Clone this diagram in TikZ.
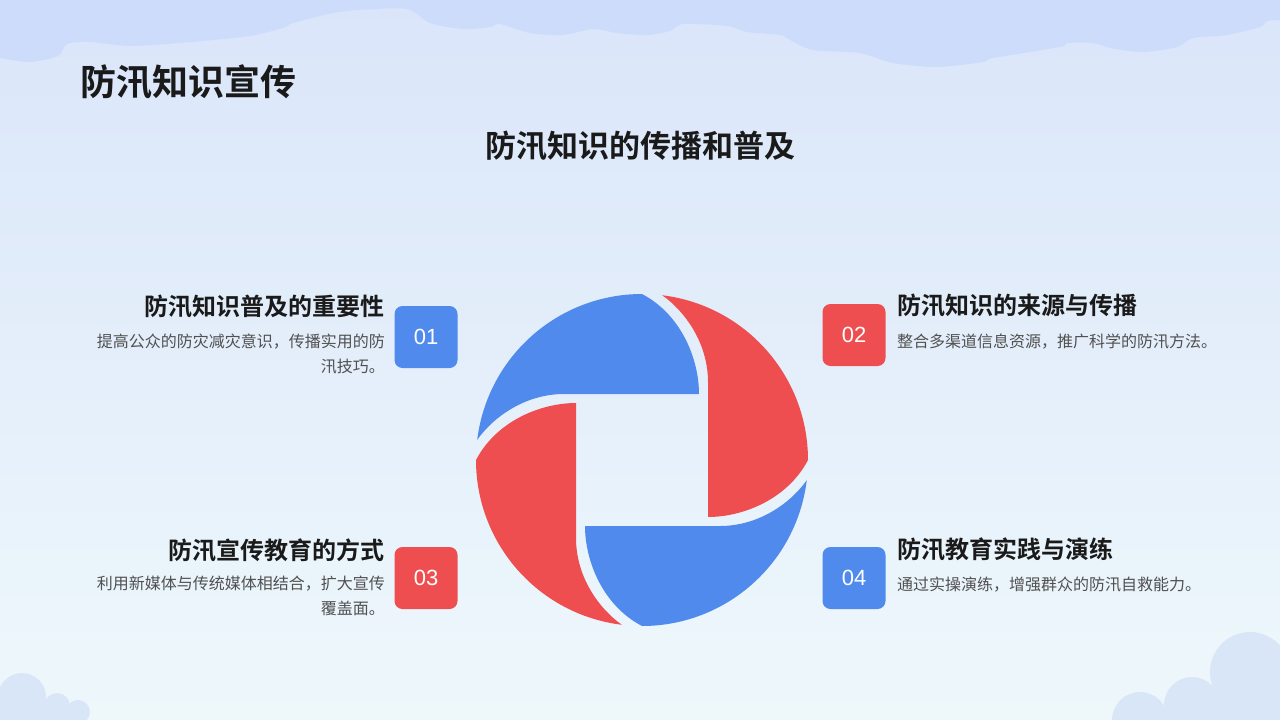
\documentclass[tikz,border=0pt]{standalone}
\usepackage{fontspec}
\newfontfamily\cjk{Noto Sans CJK SC}[BoldFont={Noto Sans CJK SC Bold}]
\newfontfamily\numfont{Liberation Sans}
\definecolor{bgtop}{HTML}{DAE5FA}
\definecolor{bgbot}{HTML}{EEF8FB}
\definecolor{cloudtop}{HTML}{CDDCFB}
\definecolor{cloudbot}{HTML}{D9E6F8}
\definecolor{redc}{HTML}{EE4E50}
\definecolor{bluec}{HTML}{4F8AEC}
\definecolor{ttlc}{HTML}{1A1A1A}
\definecolor{dscc}{HTML}{505050}
\newcommand\pinpiece{(166,0) arc[start angle=0,end angle=83,radius=166] .. controls (45,147) and (66,115) .. (66,78) -- (66,-57) .. controls (100,-57) and (145,-40) .. (166,0) -- cycle}
\begin{document}
\begin{tikzpicture}[x=1pt,y=-1pt,
  ttl/.style={inner sep=0pt, text=ttlc, font=\cjk\bfseries\fontsize{24}{28}\selectfont},
  dsc/.style={inner sep=0pt, text=dscc, font=\cjk\fontsize{16}{20}\selectfont},
  numbox/.style={rounded corners=8pt, minimum width=63pt, minimum height=62pt, inner sep=0pt, text=white, font=\numfont\fontsize{22}{22}\selectfont}]
\useasboundingbox (0,0) rectangle (1280,720);
\begin{scope}
\clip (0,0) rectangle (1280,720);
\shade[top color=bgtop, bottom color=bgbot] (0,0) rectangle (1280,720);
\fill[cloudtop] (0,0) -- plot[smooth] coordinates {(0,58) (30,62) (58,56) (67,44) (90,42) (130,46) (180,43) (213,40) (250,36) (283,28) (293,23) (333,13) (360,10) (407,9) (430,23) (463,29) (490,27) (500,24) (530,33) (563,35) (593,29) (617,33) (647,35) (670,31) (683,24) (727,26) (747,32) (780,35) (790,40) (813,50) (860,53) (893,63) (937,67) (983,62) (993,58) (1060,47) (1067,43) (1093,43) (1110,48) (1143,52) (1177,47) (1193,38) (1227,35) (1260,27) (1267,21) (1280,20)} -- (1280,0) -- cycle;
\fill[cloudbot] (22,697) circle[radius=24];
\fill[cloudbot] (57,706) circle[radius=13];
\fill[cloudbot] (78,712) circle[radius=12];
\fill[cloudbot] (0,706) rectangle (78,720);
\fill[cloudbot] (1250,672) circle[radius=40];
\fill[cloudbot] (1192,705) circle[radius=28];
\fill[cloudbot] (1140,720) circle[radius=28];
\fill[cloudbot] (1200,690) rectangle (1280,720);
\end{scope}
% pinwheel
\begin{scope}[shift={(642,460)}, yscale=-1]
\fill[redc] \pinpiece;
\end{scope}
\begin{scope}[shift={(642,460)}, yscale=-1, rotate=90]
\fill[bluec] \pinpiece;
\end{scope}
\begin{scope}[shift={(642,460)}, yscale=-1, rotate=180]
\fill[redc] \pinpiece;
\end{scope}
\begin{scope}[shift={(642,460)}, yscale=-1, rotate=270]
\fill[bluec] \pinpiece;
\end{scope}
% titles
\node[inner sep=0pt, anchor=west, text=ttlc, font=\cjk\bfseries\fontsize{36}{40}\selectfont] (title) at (80,82) {防汛知识宣传};
\node[inner sep=0pt, text=ttlc, font=\cjk\bfseries\fontsize{31}{36}\selectfont] (subtitle) at (640,146) {防汛知识的传播和普及};
% boxes
\node[numbox, fill=bluec] (b1) at (426,337) {01};
\node[numbox, fill=redc] (b2) at (854,335) {02};
\node[numbox, fill=redc] (b3) at (426,578) {03};
\node[numbox, fill=bluec] (b4) at (854,578) {04};
% texts
\node[ttl, anchor=east] (t1) at (385,307) {防汛知识普及的重要性};
\node[dsc, anchor=east] (d1a) at (385,342) {提高公众的防灾减灾意识，传播实用的防};
\node[dsc, anchor=east] (d1b) at (385,367) {汛技巧。};
\node[ttl, anchor=west] (t2) at (897,306) {防汛知识的来源与传播};
\node[dsc, anchor=west] (d2) at (897,342) {整合多渠道信息资源，推广科学的防汛方法。};
\node[ttl, anchor=east] (t3) at (385,550) {防汛宣传教育的方式};
\node[dsc, anchor=east] (d3a) at (385,584) {利用新媒体与传统媒体相结合，扩大宣传};
\node[dsc, anchor=east] (d3b) at (385,608) {覆盖面。};
\node[ttl, anchor=west] (t4) at (897,549) {防汛教育实践与演练};
\node[dsc, anchor=west] (d4) at (897,585) {通过实操演练，增强群众的防汛自救能力。};
\end{tikzpicture}
\end{document}
